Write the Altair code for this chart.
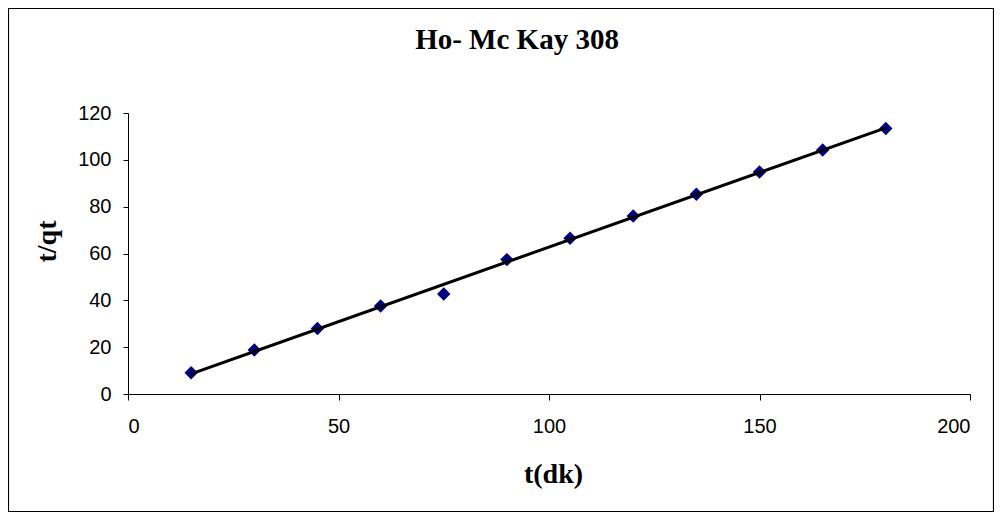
import altair as alt
import pandas as pd

t_values = [15, 30, 45, 60, 75, 90, 105, 120, 135, 150, 165, 180]
tq_values = [9.1, 18.8, 28.0, 37.6, 42.7, 57.4, 66.5, 76.0, 85.3, 94.8, 104.2, 113.4]
x_ticks = [0, 50, 100, 150, 200]
y_ticks = [0, 20, 40, 60, 80, 100, 120]
title_text = "Ho- Mc Kay 308"
x_title = "t(dk)"
y_title = "t/qt"

df = pd.DataFrame({"t": t_values, "tq": tq_values})

W, H = 842, 281

x_enc = alt.X("t:Q", scale=alt.Scale(domain=[0, 200], nice=False, zero=False),
              axis=alt.Axis(values=x_ticks, title=x_title, grid=False, tickSize=6,
                            labelPadding=16, titleX=425, titleY=80,
                            titleBaseline="middle", titleAlign="center"))
y_enc = alt.Y("tq:Q", scale=alt.Scale(domain=[0, 120], nice=False),
              axis=alt.Axis(values=y_ticks, title=y_title, grid=False, tickSize=5,
                            labelPadding=12, titleX=-81, titleY=128,
                            titleBaseline="middle", titleAlign="center", titleAngle=270))

points = alt.Chart(df).mark_point(shape="diamond", filled=True, size=180,
                                  color="#000080", opacity=1).encode(x=x_enc, y=y_enc)

trend = alt.Chart(df).mark_line(color="black", strokeWidth=3, clip=False).encode(
    x="t:Q", y="tq:Q"
).transform_regression("t", "tq", method="linear", extent=[15, 180])

one = pd.DataFrame({"a": [0]})

border = alt.Chart(one).mark_rect(
    fill=None, stroke="#000000", strokeWidth=1.2, clip=False
).encode(x=alt.value(-119.5), x2=alt.value(865.5), y=alt.value(-104.5), y2=alt.value(398.5))

title = alt.Chart(one).mark_text(
    text=title_text, font="Liberation Serif", fontSize=29, fontWeight="bold",
    color="black", align="center", baseline="alphabetic", clip=False
).encode(x=alt.value(389), y=alt.value(-64))

chart = alt.layer(border, title, points, trend).properties(
    width=W, height=H,
    autosize=alt.AutoSizeParams(type="none"),
    padding={"left": 120, "top": 105, "right": 24, "bottom": 119},
).configure_view(stroke=None).configure_axis(
    domainColor="black", tickColor="black", labelColor="black", titleColor="black",
    labelFont="Liberation Sans", labelFontSize=20, labelFontWeight="normal",
    titleFont="Liberation Serif", titleFontSize=28, titleFontWeight="bold",
    domainWidth=1, tickWidth=1
)

chart.save("out.html", embed_options={"renderer": "svg", "actions": False})
